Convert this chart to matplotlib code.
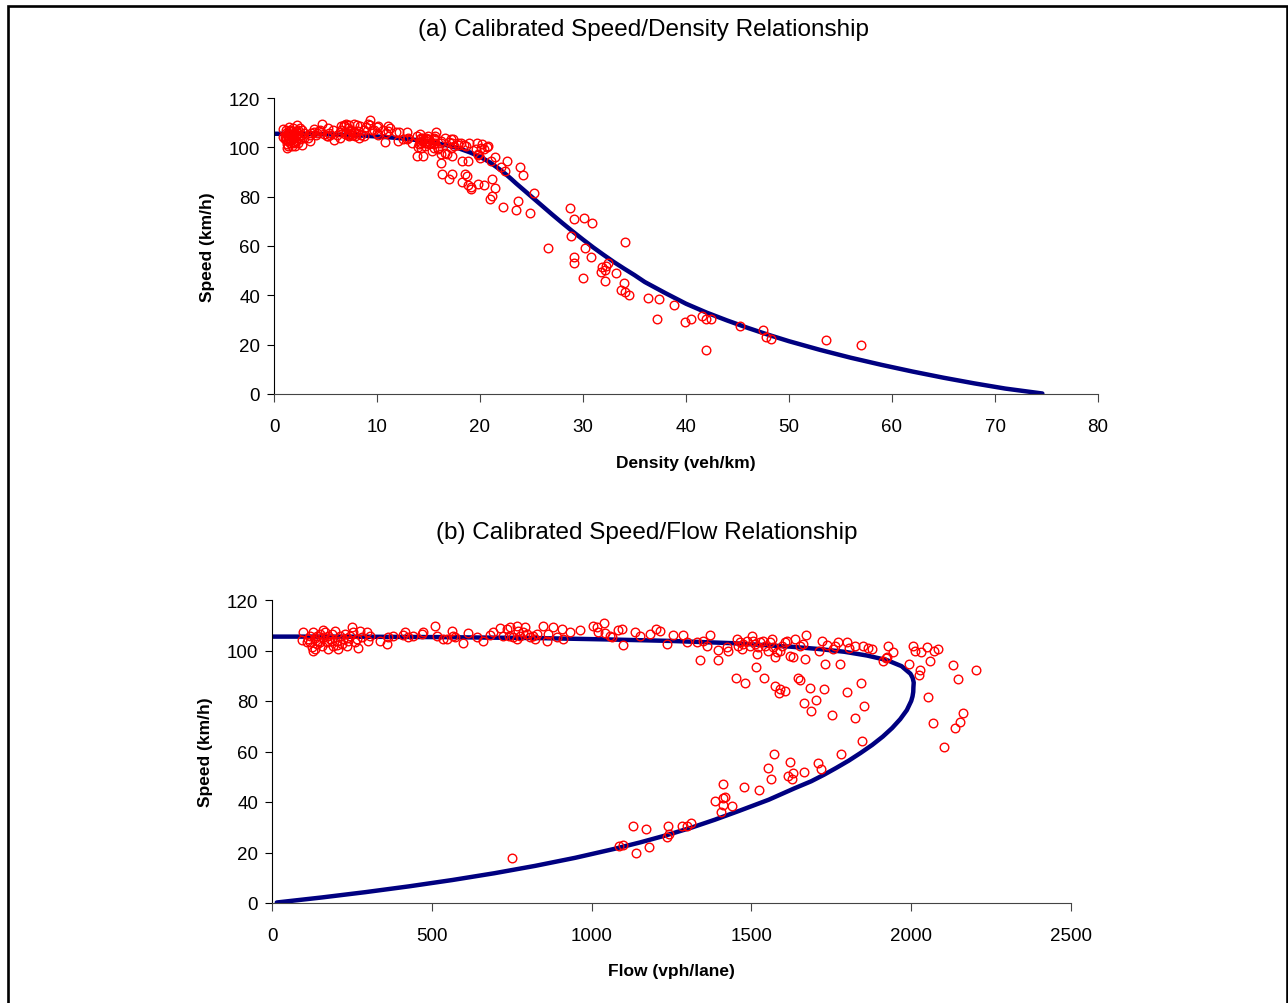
import numpy as np
import matplotlib
matplotlib.use("Agg")
import matplotlib.pyplot as plt
from matplotlib.patches import Rectangle
from matplotlib import font_manager

plt.rcParams['font.family'] = ['Liberation Sans', 'DejaVu Sans']
_names = {f.name for f in font_manager.fontManager.ttflist}
title_family = ['Liberation Sans Narrow', 'Liberation Sans', 'DejaVu Sans'] \
    if 'Liberation Sans Narrow' in _names else ['Liberation Sans', 'DejaVu Sans']
title_size = 19.5 if 'Liberation Sans Narrow' in _names else 17.5

curve_density = [0, 2, 5, 8, 10, 12, 14, 16, 17, 18, 19, 20, 21, 22, 22.5, 23, 23.5,
                 24, 24.5, 25, 26, 27, 28, 29, 30, 31, 32, 33, 34, 35, 36, 38, 40,
                 42, 44, 46, 48, 50, 53, 56, 59, 62, 65, 68, 71, 74.6]
curve_speed = [105.5, 105.5, 105.3, 104.9, 104.4, 103.8, 102.9, 101.5, 100.6, 99.5,
               98.0, 96.2, 93.8, 90.8, 89.1, 87.3, 85.4, 83.6, 81.8, 80.0, 76.4,
               72.8, 69.3, 65.9, 62.6, 59.4, 56.4, 53.5, 50.8, 48.2, 45.4, 40.9,
               36.6, 33.0, 29.8, 26.8, 24.0, 21.4, 17.9, 14.7, 11.8, 9.1, 6.6, 4.3,
               2.2, 0.2]

ff_flow = [98, 93, 108, 119, 129, 135, 140, 124, 129, 145, 150, 155, 161, 166, 171,
           176, 181, 187, 192, 197, 202, 208, 213, 218, 223, 228, 234, 239, 249, 244,
           254, 260, 265, 270, 275, 281, 296, 301, 307, 114, 140, 150, 187, 135, 202,
           161, 119, 234, 176,
           338, 359, 364, 380, 411, 416, 427, 442, 468, 474, 510, 515, 536, 547, 562,
           565, 573, 597, 614, 640, 661, 682, 693, 713, 724, 734, 745, 755, 766, 771,
           776, 792, 797, 807, 818, 828, 849, 859, 865, 880, 891, 906, 912, 932, 964,
           1005, 1016, 740, 786, 766, 823,
           1021, 1039, 1042, 1058, 1063, 1084, 1094, 1097, 1136, 1151, 1183, 1202,
           1214, 1235, 1256, 1287, 1297, 1329, 1350, 1339, 1360, 1370, 1397, 1397,
           1423, 1428, 1454, 1459, 1464, 1470, 1475, 1485, 1496, 1501, 1506, 1511,
           1517, 1522, 1527, 1537, 1543, 1553, 1558, 1563, 1569, 1574, 1579, 1590,
           1595, 1605, 1610, 1621, 1631, 1636, 1652, 1663, 1668, 1671, 1713, 1720,
           1736, 1756, 1762, 1772, 1798, 1806, 1824, 1850, 1866, 1876, 1928, 1944,
           2005, 2012, 2030, 2050, 2060, 2070, 2085, 1920, 1913, 1923]
ff_speed = [107.5, 104.3, 103.2, 105.9, 107.2, 104.8, 102.6, 101.3, 99.9, 103.9, 106.5,
            101.9, 105.2, 107.2, 103.2, 100.6, 104.6, 106.5, 101.9, 107.9, 103.9, 100.6,
            105.9, 102.6, 104.6, 106.5, 101.9, 103.9, 109.2, 105.9, 107.2, 103.2, 104.6,
            100.9, 107.9, 105.2, 107.2, 103.9, 105.9, 104.6, 105.9, 103.2, 103.9, 100.6,
            102.2, 108.2, 103.2, 104.8, 105.6,
            103.9, 102.6, 105.2, 105.9, 106.1, 107.5, 105.2, 105.9, 106.5, 107.2, 109.6,
            105.6, 104.6, 104.6, 107.9, 105.9, 105.2, 102.8, 106.9, 105.2, 103.9, 106.1,
            107.2, 108.8, 105.6, 108.5, 109.2, 105.2, 109.6, 107.9, 105.6, 109.2, 106.5,
            105.2, 105.9, 106.5, 109.6, 103.9, 106.5, 109.2, 105.2, 108.5, 104.6, 107.2,
            108.2, 109.6, 109.2, 105.9, 107.2, 104.6, 104.6,
            107.2, 110.9, 106.9, 105.9, 105.2, 108.2, 108.5, 102.2, 107.2, 105.9, 106.5,
            108.5, 107.9, 102.6, 106.1, 106.1, 103.2, 103.2, 103.6, 96.4, 101.6, 106.3,
            100.2, 96.4, 101.3, 99.9, 104.6, 101.9, 103.2, 100.6, 102.6, 103.9, 101.9,
            105.6, 103.9, 102.6, 98.6, 101.3, 103.2, 103.9, 101.9, 99.9, 103.2, 104.6,
            101.3, 97.3, 99.3, 99.9, 101.9, 103.2, 103.9, 97.9, 97.3, 104.6, 101.9,
            102.6, 96.6, 106.1, 99.9, 103.9, 102.2, 100.6, 101.9, 103.2, 103.2, 100.9,
            101.9, 101.9, 100.9, 100.6, 101.9, 99.3, 101.9, 99.9, 99.5, 101.5, 96.0,
            100.0, 100.5, 97.0, 95.7, 97.3]

cg_density = [16.2, 18.3, 18.8, 16.3, 17.3, 17.0, 18.5, 18.7, 18.3, 18.8, 19.1, 19.1,
              19.8, 20.4, 21.2, 21.5, 21.0, 21.2, 22.2, 23.5, 23.7, 24.9, 25.2, 23.9,
              24.2, 22.6, 22.4, 22.0, 21.1, 28.7, 29.1, 30.1, 30.9, 28.8, 26.6, 34.1,
              30.2, 29.1, 29.1, 30.8, 31.8, 31.7, 32.1, 32.4, 32.2, 33.2, 30.0, 32.1,
              33.95, 33.7, 34.1, 34.5, 36.3, 37.4, 38.8, 37.2, 39.9, 40.5, 41.6, 41.9,
              42.4, 41.9, 45.2, 47.5, 47.8, 48.3, 53.6, 57.0]
cg_speed = [93.5, 94.5, 94.5, 89.0, 89.0, 87.0, 89.0, 88.4, 86.0, 84.6, 83.0, 84.0,
            85.0, 84.6, 87.0, 83.7, 79.2, 80.3, 76.0, 74.6, 78.2, 73.3, 81.4, 92.2,
            88.7, 94.3, 90.4, 92.2, 94.5, 75.3, 71.1, 71.5, 69.2, 64.1, 59.1, 61.7,
            59.0, 55.7, 53.3, 55.5, 51.3, 49.3, 50.3, 53.0, 51.7, 49.0, 47.0, 46.0,
            44.9, 42.1, 41.4, 40.2, 38.9, 38.5, 36.2, 30.4, 29.3, 30.6, 31.5, 30.6,
            30.6, 17.9, 27.5, 26.0, 23.0, 22.5, 22.0, 20.0]

# fundamental relation flow = density * speed links the two panels
ff_flow_a = np.array(ff_flow, float)
ff_speed_a = np.array(ff_speed, float)
cg_density_a = np.array(cg_density, float)
cg_speed_a = np.array(cg_speed, float)
obs_density = np.concatenate([ff_flow_a / ff_speed_a, cg_density_a])
obs_speed = np.concatenate([ff_speed_a, cg_speed_a])
obs_flow = np.concatenate([ff_flow_a, cg_density_a * cg_speed_a])
curve_flow = np.array(curve_density) * np.array(curve_speed)

# ---------------- figure ----------------
W, H = 1288, 1004
fig = plt.figure(figsize=(W / 100, H / 100), dpi=100)
fig.patch.set_facecolor('white')

fig.patches.append(Rectangle((8 / W, -0.02), (1286.5 - 8) / W, 1.02 - 6.5 / H,
                             transform=fig.transFigure, fill=False, edgecolor='black',
                             linewidth=1.9, zorder=0))

def fx(px):
    return px / W

def fy(py):
    return 1 - py / H

ax1 = fig.add_axes([fx(274), fy(395), fx(1098) - fx(274), fy(99) - fy(395)])
ax2 = fig.add_axes([fx(272), fy(904), fx(1071) - fx(272), fy(601) - fy(904)])

line_col = '#000080'
for ax, xd, yd, cx, cy in [(ax1, obs_density, obs_speed, curve_density, curve_speed),
                           (ax2, obs_flow, obs_speed, curve_flow, curve_speed)]:
    ax.plot(cx, cy, color=line_col, lw=3.2, solid_capstyle='round', zorder=2)
    ax.plot(xd, yd, 'o', mfc='none', mec='#ff0000', ms=6.2, mew=1.0, zorder=3,
            clip_on=False)
    for s in ['top', 'right']:
        ax.spines[s].set_visible(False)
    ax.spines['left'].set_color('black')
    ax.spines['bottom'].set_color('#444444')
    ax.spines['left'].set_linewidth(0.8)
    ax.spines['bottom'].set_linewidth(0.8)
    ax.tick_params(axis='y', direction='out', length=5, width=0.8, colors='black',
                   labelsize=13.5, pad=5)
    ax.tick_params(axis='x', direction='out', length=6, width=0.8, colors='#444444',
                   labelcolor='black', labelsize=13.5, pad=11)
    ax.set_ylim(0, 120)
    ax.set_yticks([0, 20, 40, 60, 80, 100, 120])
    ax.set_ylabel('Speed (km/h)', fontsize=12.5, fontweight='bold', labelpad=10)

ax1.set_xlim(0, 80)
ax1.set_xticks(range(0, 81, 10))
ax1.set_xlabel('Density (veh/km)', fontsize=12.5, fontweight='bold', labelpad=15)
ax2.set_xlim(0, 2500)
ax2.set_xticks(range(0, 2501, 500))
ax2.set_xlabel('Flow (vph/lane)', fontsize=12.5, fontweight='bold', labelpad=14)

fig.text(fx(644), fy(30), '(a) Calibrated Speed/Density Relationship',
         ha='center', va='center', fontsize=title_size, family=title_family)
fig.text(fx(647), fy(533), '(b) Calibrated Speed/Flow Relationship',
         ha='center', va='center', fontsize=title_size, family=title_family)

fig.savefig('out.png', dpi=100, facecolor='white')
